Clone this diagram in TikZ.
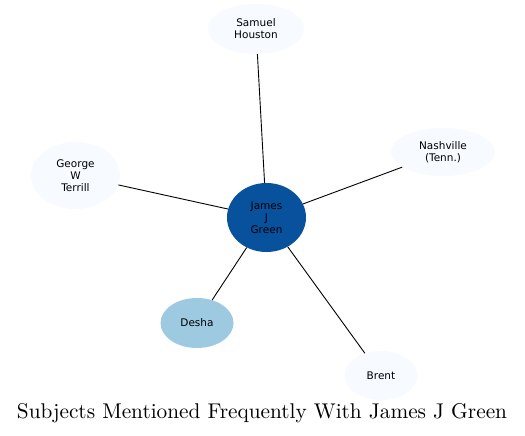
\documentclass[tikz,border=0pt]{standalone}
\usepackage{fontspec}
\newfontfamily\dv{DejaVu Sans}
\newfontfamily\titlefont{lmroman10-regular}[Extension=.otf]
\usetikzlibrary{shapes.geometric}
\definecolor{cdark}{HTML}{08519C}
\definecolor{cmid}{HTML}{9ECAE1}
\definecolor{clight}{HTML}{F7FBFF}
\tikzset{
  bub/.style={ellipse, inner sep=0pt, align=center, font=\dv\fontsize{10.5}{12}\selectfont, text=black},
  link/.style={draw=black, line width=0.9pt},
}
\begin{document}
\begin{tikzpicture}[x=1pt,y=-1pt]
\useasboundingbox[fill=white] (0,0) rectangle (525,436);
\node[bub, fill=cdark, minimum width=79pt, minimum height=69pt] (c) at (266.5,217.5) {James\\J\\Green};
\node[bub, fill=clight, minimum width=96pt, minimum height=50pt] (s) at (256,29) {Samuel\\Houston};
\node[bub, fill=clight, minimum width=104pt, minimum height=48pt] (n) at (443,152) {Nashville\\(Tenn.)};
\node[bub, fill=clight, minimum width=89pt, minimum height=67pt] (g) at (75.5,175.5) {George\\W\\Terrill};
\node[bub, fill=cmid, minimum width=73pt, minimum height=50pt] (d) at (197,323) {Desha};
\node[bub, fill=clight, minimum width=73pt, minimum height=49pt] (b) at (381,375.5) {Brent};
\draw[link] (c) -- (s);
\draw[link] (c) -- (n);
\draw[link] (c) -- (g);
\draw[link] (c) -- (d);
\draw[link] (c) -- (b);
\node[font=\titlefont\fontsize{21.3}{24}\selectfont, inner sep=0pt] (t) at (262,413.5) {Subjects Mentioned Frequently With James J Green};
\end{tikzpicture}
\end{document}
